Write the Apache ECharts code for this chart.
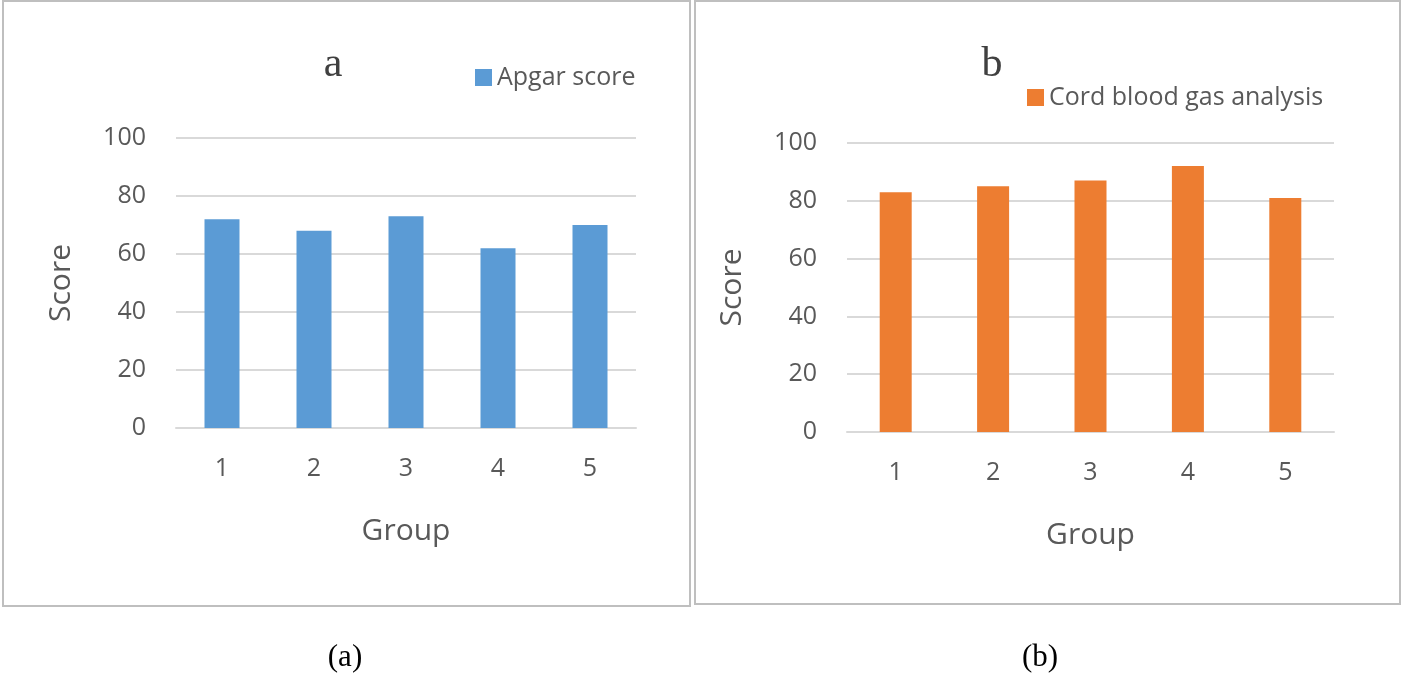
<!DOCTYPE html>
<html><head><meta charset="utf-8">
<script src="https://cdn.jsdelivr.net/npm/echarts@6/dist/echarts.min.js"></script>
<style>html,body{margin:0;padding:0;background:#fff}#c{width:1403px;height:677px}</style>
</head><body><div id="c"></div>
<script>
const groups = ['1','2','3','4','5'];
const apgar = [72, 68, 73, 62, 70];
const cordGas = [83, 85, 87, 92, 81];
const yTicks = [0, 20, 40, 60, 80, 100];

const chart = echarts.init(document.getElementById('c'));
const txt = '#595959', grid = '#d9d9d9', f = '"Open Sans", sans-serif';
function xa(i){return {type:'category',gridIndex:i,data:groups,axisTick:{show:false},
  axisLine:{lineStyle:{color:grid,width:2}},axisLabel:{color:txt,fontSize:25,fontFamily:f,margin:28},
  name:'Group',nameLocation:'middle',nameGap:88,nameTextStyle:{color:txt,fontSize:30,fontFamily:f}};}
function ya(i){return {type:'value',gridIndex:i,min:0,max:100,interval:20,
  axisLine:{show:false},axisTick:{show:false},splitLine:{lineStyle:{color:grid,width:2}},
  axisLabel:{color:txt,fontSize:25,fontFamily:f,margin:30},
  name:'Score',nameLocation:'middle',nameGap:100,nameTextStyle:{color:txt,fontSize:30,fontFamily:f}};}
chart.setOption({
  animation:false,
  grid:[{left:176,width:460,top:138,height:290},{left:847,width:487,top:143,height:289}],
  xAxis:[xa(0),xa(1)], yAxis:[ya(0),ya(1)],
  legend:[
    {data:['Apgar score'],left:470,top:60,itemWidth:17,itemHeight:17,icon:'rect',itemGap:8,textStyle:{color:txt,fontSize:25,fontFamily:f}},
    {data:['Cord blood gas analysis'],left:1022,top:80,itemWidth:17,itemHeight:17,icon:'rect',textStyle:{color:txt,fontSize:25,fontFamily:f}}
  ],
  series:[
    {name:'Apgar score',type:'bar',xAxisIndex:0,yAxisIndex:0,data:apgar,barWidth:35,itemStyle:{color:'#5b9bd5'}},
    {name:'Cord blood gas analysis',type:'bar',xAxisIndex:1,yAxisIndex:1,data:cordGas,barWidth:32,itemStyle:{color:'#ed7d31'}}
  ],
  graphic:[
    {type:'rect',shape:{x:3,y:1,width:687,height:605},style:{fill:'none',stroke:'#bfbfbf',lineWidth:2}},
    {type:'rect',shape:{x:695,y:1,width:705,height:603},style:{fill:'none',stroke:'#bfbfbf',lineWidth:2}},
    {type:'text',x:333,y:65,style:{text:'a',font:'42px "Liberation Serif", serif',fill:'#404040',align:'center',verticalAlign:'middle'}},
    {type:'text',x:992,y:65,style:{text:'b',font:'42px "Liberation Serif", serif',fill:'#404040',align:'center',verticalAlign:'middle'}},
    {type:'text',x:345,y:658,style:{text:'(a)',font:'31px "Liberation Serif", serif',fill:'#000',align:'center',verticalAlign:'middle'}},
    {type:'text',x:1040,y:658,style:{text:'(b)',font:'31px "Liberation Serif", serif',fill:'#000',align:'center',verticalAlign:'middle'}}
  ]
});
</script></body></html>
